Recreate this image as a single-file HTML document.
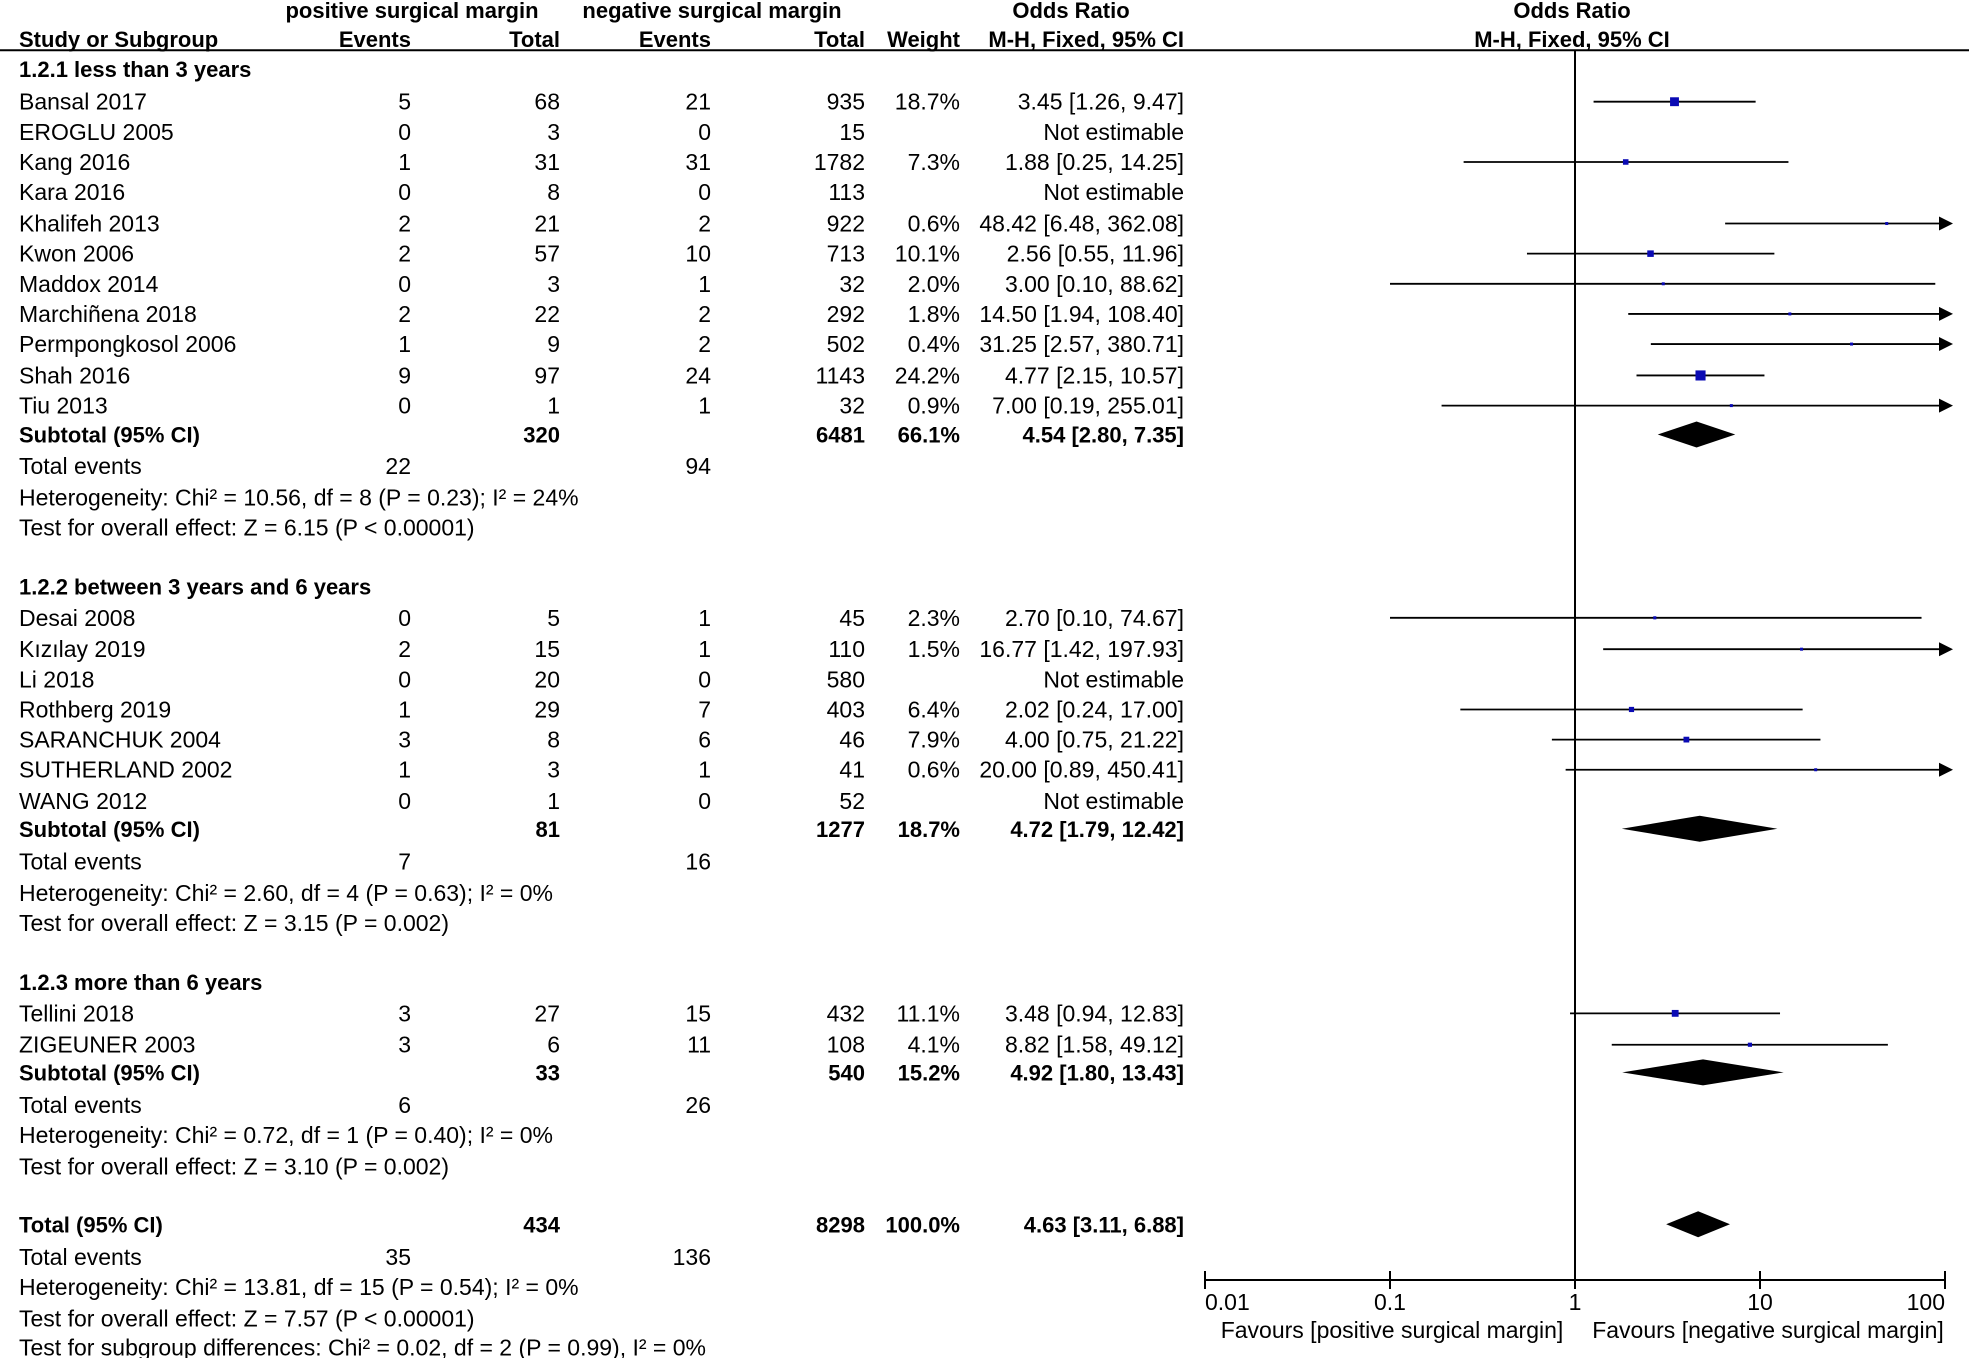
<!DOCTYPE html>
<html><head><meta charset="utf-8"><style>
html,body{margin:0;padding:0;background:#fff;}
svg{display:block;}
text{font-family:"Liberation Sans",Arial,sans-serif;font-size:23px;fill:#000;}
.b{font-weight:bold;font-size:22px;}
</style></head><body>
<svg id="fp" width="1969" height="1358" viewBox="0 0 1969 1358">
<g id="tbl"></g>
<g id="plot"></g>
</svg>
<script>
// ---- data ----
const studies = ["Bansal 2017","EROGLU 2005","Kang 2016","Kara 2016","Khalifeh  2013","Kwon 2006","Maddox 2014","Marchiñena 2018","Permpongkosol 2006","Shah 2016","Tiu 2013",
 "Desai 2008","Kızılay 2019","Li  2018","Rothberg  2019","SARANCHUK 2004","SUTHERLAND 2002","WANG 2012",
 "Tellini 2018","ZIGEUNER 2003"];
const posEvents = [5,0,1,0,2,2,0,2,1,9,0, 0,2,0,1,3,1,0, 3,3];
const posTotal = [68,3,31,8,21,57,3,22,9,97,1, 5,15,20,29,8,3,1, 27,6];
const negEvents = [21,0,31,0,2,10,1,2,2,24,1, 1,1,0,7,6,1,0, 15,11];
const negTotal = [935,15,1782,113,922,713,32,292,502,1143,32, 45,110,580,403,46,41,52, 432,108];
const weights = [18.7,null,7.3,null,0.6,10.1,2.0,1.8,0.4,24.2,0.9, 2.3,1.5,null,6.4,7.9,0.6,null, 11.1,4.1];
const orEst = [3.45,null,1.88,null,48.42,2.56,3.00,14.50,31.25,4.77,7.00, 2.70,16.77,null,2.02,4.00,20.00,null, 3.48,8.82];
const orLo = [1.26,null,0.25,null,6.48,0.55,0.10,1.94,2.57,2.15,0.19, 0.10,1.42,null,0.24,0.75,0.89,null, 0.94,1.58];
const orHi = [9.47,null,14.25,null,362.08,11.96,88.62,108.40,380.71,10.57,255.01, 74.67,197.93,null,17.00,21.22,450.41,null, 12.83,49.12];
const studyRowY = [81,105,129,153,178,202,226,250,274,299,323, 492,517,541,565,589,613,638, 807,832];
const subLabels = ["Subtotal (95% CI)","Subtotal (95% CI)","Subtotal (95% CI)","Total (95% CI)"];
const subPosTotal = [320,81,33,434];
const subNegTotal = [6481,1277,540,8298];
const subWeight = ["66.1%","18.7%","15.2%","100.0%"];
const subEst = [4.54,4.72,4.92,4.63];
const subLo = [2.80,1.79,1.80,3.11];
const subHi = [7.35,12.42,13.43,6.88];
const subRowY = [346,660,854,975];
const totPosEv = [22,7,6,35];
const totNegEv = [94,16,26,136];
const totRowY = [371,686,880,1001];
const xTicks = [0.01,0.1,1,10,100];
const xTickLabels = ["0.01","0.1","1","10","100"];

const S = 1.2557; // display->original
const NS="http://www.w3.org/2000/svg";
const tbl=document.getElementById('tbl'), plot=document.getElementById('plot');
function T(parent,x,y,str,anchor,bold,name){
  const t=document.createElementNS(NS,'text');
  t.setAttribute('x',x); t.setAttribute('y',y+8);
  if(anchor) t.setAttribute('text-anchor',anchor);
  if(bold) t.setAttribute('class','b');
  t.textContent=str;
  
  
  parent.appendChild(t); return t;
}
function E(parent,tag,attrs,name){
  const e=document.createElementNS(NS,tag);
  for(const k in attrs) e.setAttribute(k,attrs[k]);
  
  
  parent.appendChild(e); return e;
}
const cx = {study:19, pe:411, pt:560, ne:711, nt:865, w:960, or:1184};
const Y = v => v*S;
// header
T(tbl,412,Y(8),"positive surgical margin","middle",true,"header-positive-group");
T(tbl,712,Y(8),"negative surgical margin","middle",true,"header-negative-group");
T(tbl,1071,Y(8),"Odds Ratio","middle",true,"header-odds-ratio");
T(tbl,1572,Y(8),"Odds Ratio","middle",true,"header-odds-ratio-plot");
T(tbl,cx.study,Y(31),"Study or Subgroup","start",true,"header-study");
T(tbl,cx.pe,Y(31),"Events","end",true,"header-pos-events");
T(tbl,cx.pt,Y(31),"Total","end",true,"header-pos-total");
T(tbl,cx.ne,Y(31),"Events","end",true,"header-neg-events");
T(tbl,cx.nt,Y(31),"Total","end",true,"header-neg-total");
T(tbl,cx.w,Y(31),"Weight","end",true,"header-weight");
T(tbl,cx.or,Y(31),"M-H, Fixed, 95% CI","end",true,"header-method");
T(tbl,1572,Y(31),"M-H, Fixed, 95% CI","middle",true,"header-method-plot");
E(tbl,'line',{x1:0,y1:Y(40),x2:1969,y2:Y(40),stroke:'#000','stroke-width':2},'header-rule');
// group headers
T(tbl,cx.study,Y(55),"1.2.1 less than 3 years","start",true,"group-1-title");
T(tbl,cx.study,Y(467),"1.2.2 between 3 years and 6 years","start",true,"group-2-title");
T(tbl,cx.study,Y(782),"1.2.3 more than 6 years","start",true,"group-3-title");
// forest axis
const x0=1575, dec=185;
const X = v => x0 + Math.log10(v)*dec;
const xmin=X(0.01), xmax=X(100);
const axisY=1280;
E(plot,'line',{x1:X(1),y1:Y(40),x2:X(1),y2:axisY,stroke:'#000','stroke-width':2},'null-line');
E(plot,'line',{x1:xmin,y1:axisY,x2:xmax,y2:axisY,stroke:'#000','stroke-width':2},'x-axis');
xTicks.forEach((v,i)=>{
  E(plot,'line',{x1:X(v),y1:axisY-9,x2:X(v),y2:axisY+9,stroke:'#000','stroke-width':2},'x-tick');
  T(plot,X(v),axisY+22,xTickLabels[i],i==0?'start':(i==4?'end':'middle'),false,'x-tick-label');
});
T(plot,1392,axisY+50,"Favours [positive surgical margin]","middle",false,"favours-left-label");
T(plot,1768,axisY+50,"Favours [negative surgical margin]","middle",false,"favours-right-label");
// studies
studies.forEach((s,i)=>{
  const y=Y(studyRowY[i]);
  T(tbl,cx.study,y,s,'start',false,'study-name');
  T(tbl,cx.pe,y,String(posEvents[i]),'end',false,'pos-events');
  T(tbl,cx.pt,y,String(posTotal[i]),'end',false,'pos-total');
  T(tbl,cx.ne,y,String(negEvents[i]),'end',false,'neg-events');
  T(tbl,cx.nt,y,String(negTotal[i]),'end',false,'neg-total');
  if(orEst[i]==null){ T(tbl,cx.or,y,"Not estimable",'end',false,'or-text'); return; }
  T(tbl,cx.w,y,weights[i].toFixed(1)+"%",'end',false,'weight');
  T(tbl,cx.or,y,orEst[i].toFixed(2)+" ["+orLo[i].toFixed(2)+", "+orHi[i].toFixed(2)+"]",'end',false,'or-text');
  const a=Math.max(X(orLo[i]),xmin), b0=X(orHi[i]), arrow=b0>xmax+6, b=arrow?xmax+2:b0;
  E(plot,'line',{x1:a,y1:y,x2:arrow?b-8:b,y2:y,stroke:'#000','stroke-width':1.8},'ci-line');
  if(arrow) E(plot,'polygon',{points:(b+6)+','+y+' '+(b-8)+','+(y-7)+' '+(b-8)+','+(y+7),fill:'#000'},'ci-arrow');
  const sz=Math.max(3,Math.sqrt(weights[i])*2.05);
  E(plot,'rect',{x:X(orEst[i])-sz/2,y:y-sz/2,width:sz,height:sz,fill:'#0a0ab4'},'study-square');
});
// subtotals
subLabels.forEach((s,i)=>{
  const y=Y(subRowY[i]);
  T(tbl,cx.study,y,s,'start',true,'subtotal-label');
  T(tbl,cx.pt,y,String(subPosTotal[i]),'end',true,'subtotal-pos-total');
  T(tbl,cx.nt,y,String(subNegTotal[i]),'end',true,'subtotal-neg-total');
  T(tbl,cx.w,y,subWeight[i],'end',true,'subtotal-weight');
  T(tbl,cx.or,y,subEst[i].toFixed(2)+" ["+subLo[i].toFixed(2)+", "+subHi[i].toFixed(2)+"]",'end',true,'subtotal-or-text');
  const h=13;
  E(plot,'polygon',{points:X(subLo[i])+','+y+' '+X(subEst[i])+','+(y-h)+' '+X(subHi[i])+','+y+' '+X(subEst[i])+','+(y+h),fill:'#000'},'subtotal-diamond');
  const ty=Y(totRowY[i]);
  T(tbl,cx.study,ty,"Total events",'start',false,'total-events-label');
  T(tbl,cx.pe,ty,String(totPosEv[i]),'end',false,'total-pos-events');
  T(tbl,cx.ne,ty,String(totNegEv[i]),'end',false,'total-neg-events');
});
const notes=[[396,"Heterogeneity: Chi² = 10.56, df = 8 (P = 0.23); I² = 24%"],[420,"Test for overall effect: Z = 6.15 (P < 0.00001)"],
[711,"Heterogeneity: Chi² = 2.60, df = 4 (P = 0.63); I² = 0%"],[735,"Test for overall effect: Z = 3.15 (P = 0.002)"],
[904,"Heterogeneity: Chi² = 0.72, df = 1 (P = 0.40); I² = 0%"],[929,"Test for overall effect: Z = 3.10 (P = 0.002)"],
[1025,"Heterogeneity: Chi² = 13.81, df = 15 (P = 0.54); I² = 0%"],[1050,"Test for overall effect: Z = 7.57 (P < 0.00001)"],
[1073,"Test for subgroup differences: Chi² = 0.02, df = 2 (P = 0.99), I² = 0%"]];
notes.forEach(n=>T(tbl,cx.study,Y(n[0]),n[1],'start',false,'stat-note'));
</script>
</body></html>
